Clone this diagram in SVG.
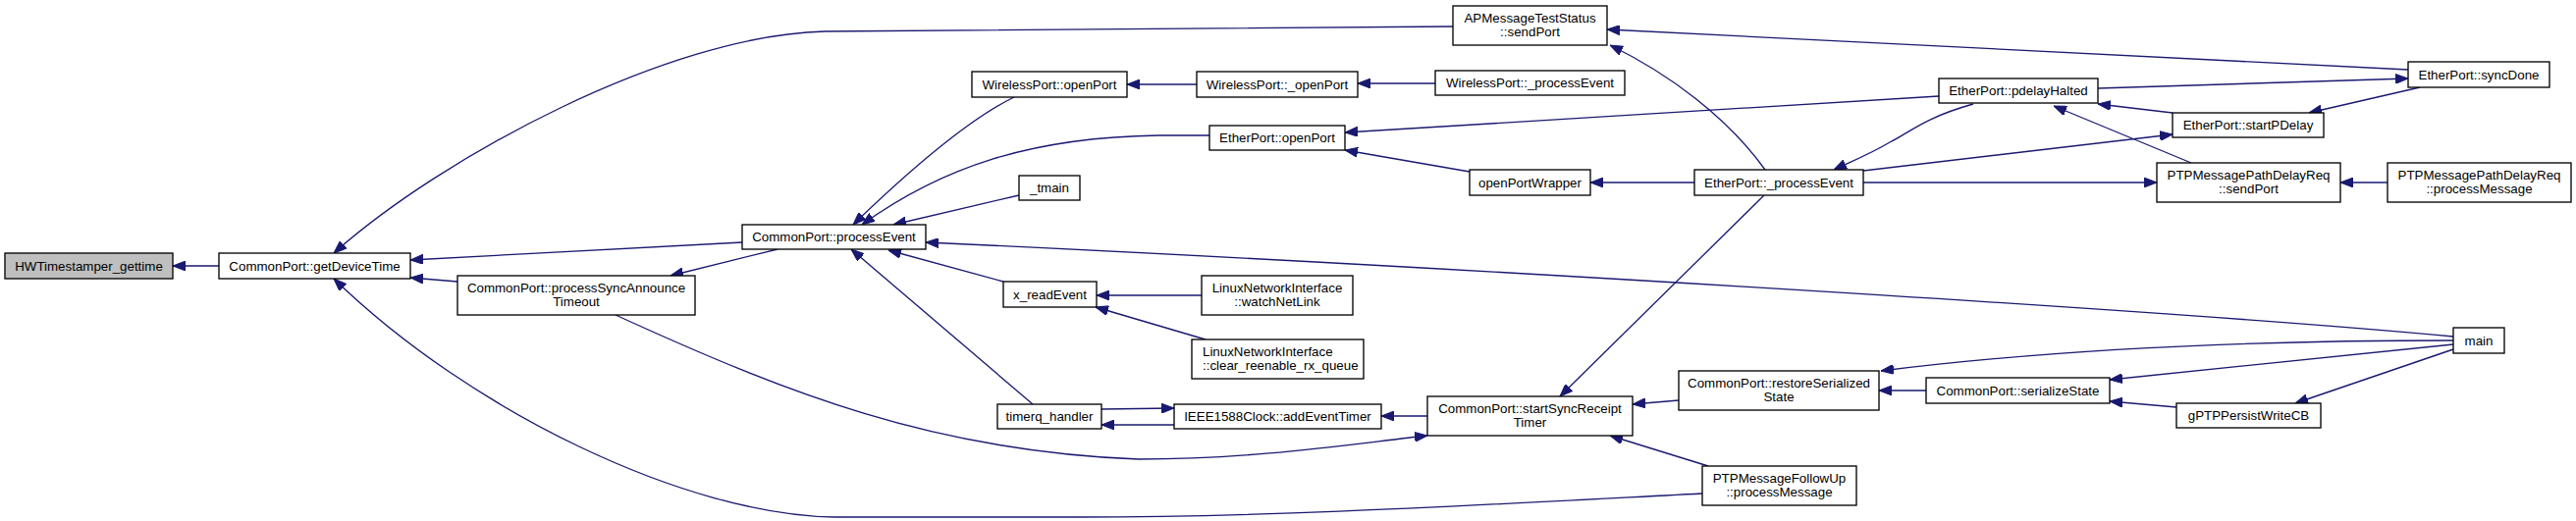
<svg xmlns="http://www.w3.org/2000/svg" width="2624" height="531" viewBox="0 0 2624 531">
<style>
.node rect{fill:#ffffff;stroke:#000000;stroke-width:1.33}
.root rect{fill:#bfbfbf}
text{font-family:"Liberation Sans",Arial,Helvetica,sans-serif;font-size:13.33px;fill:#000000;text-anchor:middle}
text.l{text-anchor:start}
.edges path{fill:none;stroke:#191970;stroke-width:1.33;marker-end:url(#arr)}
</style>
<defs>
<marker id="arr" markerUnits="userSpaceOnUse" markerWidth="13" markerHeight="10" refX="13" refY="5" orient="auto" viewBox="0 0 13 10">
<path d="M0,0 L13,5 L0,10 z" fill="#191970" stroke="#191970" stroke-width="1"/>
</marker>
</defs>
<rect width="2624" height="531" fill="#ffffff"/>
<g class="edges">
<path d="M223,271 L176,271"/>
<path d="M756,247 L418,265"/>
<path d="M466,287 L418,283"/>
<path d="M792,254 L683,281"/>
<path d="M1480,27 C1200,30 950,31 840,32 C680,36 450,160 340,258"/>
<path d="M1734,503 C1500,515 1300,527 1100,527 L850,527 C700,525 480,420 340,284"/>
<path d="M627,321 C800,400 950,460 1160,468 C1280,468 1380,452 1454,444"/>
<path d="M1033,99 C990,120 930,170 869,229"/>
<path d="M1232,138 L1180,138 C1050,140 960,170 878,229"/>
<path d="M1038,199 L910,229"/>
<path d="M2499,343 C2200,315 1400,268 943,247"/>
<path d="M1022,287 L905,255"/>
<path d="M1052,412 L867,254"/>
<path d="M1219,86 L1148,86"/>
<path d="M1462,85 L1383,85"/>
<path d="M1975,98 L1370,135"/>
<path d="M1497,175 L1370,153"/>
<path d="M1726,186 L1620,186"/>
<path d="M1798,173 C1760,120 1700,75 1640,46"/>
<path d="M2453,71 L1637,30"/>
<path d="M2010,106 C1960,120 1945,135 1925,145 C1905,157 1885,165 1868,173"/>
<path d="M1898,174 L2213,137"/>
<path d="M1898,186 L2197,186"/>
<path d="M1797,199 L1589,404"/>
<path d="M2137,90 L2453,80"/>
<path d="M2213,115 L2137,106"/>
<path d="M2465,89 L2352,115"/>
<path d="M2232,166 L2092,108"/>
<path d="M2432,186 L2384,186"/>
<path d="M1224,301 L1117,301"/>
<path d="M1228,346 L1116,313"/>
<path d="M1122,417 L1196,416"/>
<path d="M1196,433 L1122,433"/>
<path d="M1454,424 L1407,424"/>
<path d="M1710,408 L1663,412"/>
<path d="M1740,475 L1640,444"/>
<path d="M2499,347 C2300,347 2100,355 1916,378"/>
<path d="M1962,398 L1914,398"/>
<path d="M2499,351 L2149,387"/>
<path d="M2499,356 L2338,411"/>
<path d="M2217,415 L2149,409"/>
</g>
<g id="n1" class="node root"><rect x="5" y="258" width="171" height="26"/><text x="90.5" y="275.5">HWTimestamper_gettime</text></g>
<g id="n2" class="node"><rect x="223" y="258" width="195" height="26"/><text x="320.5" y="275.5">CommonPort::getDeviceTime</text></g>
<g id="n3" class="node"><rect x="466" y="281" width="242" height="40"/><text x="587" y="298">CommonPort::processSyncAnnounce</text><text x="587" y="312">Timeout</text></g>
<g id="n4" class="node"><rect x="756" y="229" width="187" height="25"/><text x="849.5" y="246">CommonPort::processEvent</text></g>
<g id="n5" class="node"><rect x="1480" y="6" width="157" height="40"/><text x="1558.5" y="23">APMessageTestStatus</text><text x="1558.5" y="37">::sendPort</text></g>
<g id="n6" class="node"><rect x="1734" y="475" width="157" height="40"/><text x="1812.5" y="492">PTPMessageFollowUp</text><text x="1812.5" y="506">::processMessage</text></g>
<g id="n7" class="node"><rect x="990" y="73" width="158" height="26"/><text x="1069" y="90.5">WirelessPort::openPort</text></g>
<g id="n8" class="node"><rect x="1232" y="128" width="138" height="25"/><text x="1301" y="145">EtherPort::openPort</text></g>
<g id="n9" class="node"><rect x="1038" y="179" width="62" height="25"/><text x="1069" y="196">_tmain</text></g>
<g id="n10" class="node"><rect x="1022" y="287" width="95" height="26"/><text x="1069.5" y="304.5">x_readEvent</text></g>
<g id="n11" class="node"><rect x="1016" y="412" width="106" height="25"/><text x="1069" y="429">timerq_handler</text></g>
<g id="n12" class="node"><rect x="1219" y="73" width="164" height="26"/><text x="1301" y="90.5">WirelessPort::_openPort</text></g>
<g id="n13" class="node"><rect x="1462" y="72" width="193" height="25"/><text x="1558.5" y="89">WirelessPort::_processEvent</text></g>
<g id="n14" class="node"><rect x="1497" y="173" width="123" height="26"/><text x="1558.5" y="190.5">openPortWrapper</text></g>
<g id="n15" class="node"><rect x="1726" y="173" width="172" height="26"/><text x="1812" y="190.5">EtherPort::_processEvent</text></g>
<g id="n16" class="node"><rect x="1975" y="80" width="162" height="25"/><text x="2056" y="97">EtherPort::pdelayHalted</text></g>
<g id="n17" class="node"><rect x="2453" y="63" width="144" height="26"/><text x="2525" y="80.5">EtherPort::syncDone</text></g>
<g id="n18" class="node"><rect x="2213" y="115" width="154" height="25"/><text x="2290" y="132">EtherPort::startPDelay</text></g>
<g id="n19" class="node"><rect x="2197" y="166" width="187" height="40"/><text x="2290.5" y="183">PTPMessagePathDelayReq</text><text x="2290.5" y="197">::sendPort</text></g>
<g id="n20" class="node"><rect x="2432" y="166" width="187" height="40"/><text x="2525.5" y="183">PTPMessagePathDelayReq</text><text x="2525.5" y="197">::processMessage</text></g>
<g id="n21" class="node"><rect x="1224" y="281" width="154" height="40"/><text x="1301" y="298">LinuxNetworkInterface</text><text x="1301" y="312">::watchNetLink</text></g>
<g id="n22" class="node"><rect x="1214" y="346" width="175" height="40"/><text class="l" x="1225" y="363">LinuxNetworkInterface</text><text class="l" x="1225" y="377">::clear_reenable_rx_queue</text></g>
<g id="n23" class="node"><rect x="1196" y="412" width="211" height="25"/><text x="1301.5" y="429">IEEE1588Clock::addEventTimer</text></g>
<g id="n24" class="node"><rect x="1454" y="404" width="209" height="40"/><text x="1558.5" y="421">CommonPort::startSyncReceipt</text><text x="1558.5" y="435">Timer</text></g>
<g id="n25" class="node"><rect x="1710" y="378" width="204" height="40"/><text x="1812" y="395">CommonPort::restoreSerialized</text><text x="1812" y="409">State</text></g>
<g id="n26" class="node"><rect x="1962" y="385" width="187" height="26"/><text x="2055.5" y="402.5">CommonPort::serializeState</text></g>
<g id="n27" class="node"><rect x="2217" y="411" width="147" height="25"/><text x="2290.5" y="428">gPTPPersistWriteCB</text></g>
<g id="n28" class="node"><rect x="2499" y="334" width="52" height="26"/><text x="2525" y="351.5">main</text></g>
</svg>
